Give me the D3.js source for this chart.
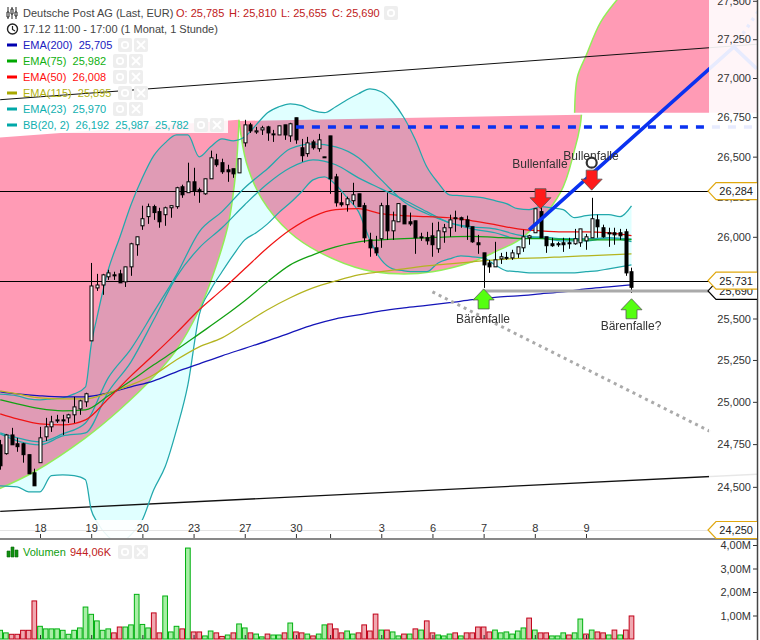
<!DOCTYPE html>
<html><head><meta charset="utf-8">
<script src="https://cdn.jsdelivr.net/npm/d3@7"></script>
<style>html,body{margin:0;padding:0;background:#fff}svg{display:block}text{font-family:"Liberation Sans",Arial,sans-serif}</style>
</head><body><div id="c"></div>
<script>
// ---------- candle data (bar 1..112) ----------
const candleOpen=[24746,24694,24804,24752,24752,24688,24582,24641,24793,24852,24887,24893,24905,24923,24958,25000,25365,25686,25704,25754,25766,25772,25723,25815,25951,26068,26125,26187,26156,26137,26180,26187,26311,26274,26342,26292,26267,26361,26480,26462,26417,26424,26398,26587,26701,26656,26669,26688,26640,26637,26701,26631,26746,26556,26519,26593,26550,26496,26631,26373,26211,26199,26224,26267,26193,25981,25932,25988,26193,26037,26093,26193,26093,26099,25994,25994,26006,25926,26031,26056,26118,26118,26105,26062,25963,25901,25839,25815,25864,25870,25870,25895,25932,25994,26025,26156,26000,25957,25957,25963,25963,25957,25963,25975,25994,26105,26056,26025,26025,26025,26031,25785];
const candleHigh=[24775,24810,24846,24787,24758,24688,24606,24852,24905,24917,24923,24923,24929,25030,25012,25054,25839,25772,25772,25797,25785,25797,25815,25963,26000,26193,26206,26199,26180,26187,26193,26311,26324,26462,26430,26305,26361,26538,26518,26487,26449,26424,26487,26733,26714,26688,26695,26695,26669,26695,26701,26714,26746,26612,26625,26606,26644,26499,26631,26392,26274,26249,26336,26267,26211,26025,26006,26211,26274,26156,26206,26193,26150,26099,26025,26031,26087,26093,26080,26137,26162,26125,26131,26062,26012,25901,25858,25969,25901,25907,25920,25938,26043,26012,26174,26193,26000,25994,25969,25994,25994,26049,26049,26018,26242,26137,26075,26056,26056,26049,26049,25810];
const candleLow=[24600,24688,24746,24705,24641,24576,24506,24641,24769,24822,24875,24804,24875,24875,24923,24970,25365,25668,25644,25735,25735,25717,25692,25760,25883,26043,26080,26105,26056,26068,26118,26174,26242,26274,26255,26211,26261,26361,26436,26392,26342,26367,26398,26563,26650,26644,26637,26600,26593,26637,26606,26593,26581,26468,26499,26544,26531,26493,26267,26187,26187,26156,26199,26187,25963,25877,25883,25932,25981,25981,26093,26080,26068,25895,25975,25951,25877,25901,25963,26000,26031,26056,25981,25963,25895,25686,25778,25815,25833,25858,25858,25870,25907,25951,26025,25994,25901,25938,25938,25907,25926,25951,25938,25920,25994,25994,25994,25938,25951,25981,25760,25655];
const candleClose=[24623,24804,24746,24735,24688,24576,24506,24787,24852,24881,24893,24887,24923,24970,25006,25048,25698,25704,25766,25778,25760,25717,25815,25957,26000,26112,26187,26150,26093,26180,26193,26305,26261,26342,26286,26280,26361,26493,26449,26405,26405,26392,26487,26701,26663,26663,26682,26650,26644,26695,26637,26708,26606,26506,26587,26556,26606,26499,26361,26211,26199,26236,26261,26187,25994,25932,25901,26193,26037,26099,26206,26080,26080,25994,26000,25975,25951,26037,26056,26105,26112,26105,26062,25969,25951,25827,25815,25858,25877,25873,25901,25938,26000,26006,26174,25994,25945,25945,25951,25951,25957,25988,26049,26000,26112,26062,26000,26018,26012,26006,25778,25690];
// ---------- volume (millions), 1 = green, 0 = red ----------
const volume=[.37,.26,.20,.20,.37,.37,1.62,.54,.43,.43,.43,.37,.20,.37,.47,1.36,1.05,.77,.37,.43,.26,.51,.51,.60,1.90,.62,.47,1.11,.26,1.83,.30,.54,.43,3.87,.30,.30,.13,.34,.26,.11,.17,.26,.64,.47,.26,.21,.09,.21,.17,.17,.26,.68,.30,.26,.21,.13,.21,.60,.64,.43,.26,.34,.21,.26,.60,.34,1.06,.38,.38,.30,.13,.21,.21,.43,.38,.77,.26,.17,.13,.21,.26,.13,.26,.26,.51,.51,.30,.38,.26,.30,.21,.34,.47,.89,.38,.26,.26,.13,.13,.26,.17,.26,.85,.21,.38,.30,.26,.17,.38,.17,.38,.98];
const volumeUp=[1,1,0,0,0,0,0,1,1,1,1,1,1,1,1,1,1,1,1,1,0,0,1,1,1,1,1,0,0,1,1,1,0,1,0,0,1,1,0,0,1,0,1,1,0,1,1,0,1,1,0,1,0,0,1,0,1,1,0,0,0,1,1,0,0,0,0,1,0,1,1,0,1,0,1,0,0,1,1,1,0,1,0,0,0,0,0,1,1,1,1,1,1,0,1,0,0,1,1,1,0,1,1,0,1,0,0,1,0,1,0,0];
// ---------- indicator lines ----------
const emaBars=[1,4,8,12,16,20,24,28,32,36,40,44,48,52,56,60,64,68,72,76,80,84,88,92,96,100,104,108,112];
const ema200=[25059,25047,25036,25030,25030,25053,25089,25125,25179,25227,25275,25320,25365,25413,25461,25498,25522,25547,25565,25580,25596,25614,25629,25638,25650,25662,25680,25692,25705];
const ema115=[25065,25047,25024,25018,25018,25053,25101,25161,25251,25329,25383,25468,25553,25626,25686,25729,25766,25785,25803,25821,25833,25846,25858,25867,25870,25877,25883,25889,25895];
const ema75=[25012,24988,24959,24947,24953,25036,25125,25221,25311,25407,25504,25608,25723,25827,25889,25938,25969,25981,25988,25994,26000,26003,25997,25991,25988,25984,25981,25981,25982];
const ema50=[24929,24899,24869,24863,24893,25018,25155,25281,25413,25553,25674,25803,25932,26043,26125,26168,26174,26143,26131,26125,26118,26099,26075,26049,26037,26031,26031,26025,26008];
const ema23=[24816,24787,24763,24810,24875,25143,25317,25540,25766,26031,26156,26305,26424,26550,26581,26562,26493,26354,26218,26143,26087,26049,26025,25988,26000,25988,25988,25994,25970];
const bbMid=[24810,24769,24746,24798,24816,25059,25239,25492,25754,25932,26056,26199,26330,26430,26480,26449,26367,26298,26230,26156,26087,26062,26049,26012,25994,25975,25975,25994,25987];
const bbBars=[0,4,6,8,10,12,14,16,17,18,20,22,24,26,28,30,32,34,36,38,40,42,44,46,48,50,52,54,56,58,60,62,64,66,68,70,72,74,76,78,80,82,84,86,88,90,92,94,96,98,100,102,104,106,108,110,112];
const bbUpper=[25047,25036,25018,25012,25018,25024,25047,25089,25341,25504,25797,25994,26199,26367,26506,26587,26637,26637,26499,26562,26612,26600,26625,26701,26778,26816,26835,26823,26791,26778,26816,26861,26899,26931,26912,26848,26746,26606,26436,26336,26261,26255,26249,26242,26224,26206,26174,26168,26187,26180,26168,26118,26131,26137,26137,26125,26192];
const bbLower=[24506,24500,24471,24471,24565,24570,24565,24541,24367,24298,24212,24177,24223,24309,24483,24617,24834,25101,25522,25674,25785,25889,25981,26025,26080,26150,26211,26280,26354,26373,26324,26242,26156,25981,25858,25803,25791,25785,25785,25839,25864,25883,25877,25870,25827,25791,25785,25778,25778,25778,25778,25778,25785,25791,25803,25815,25827];
// ---------- drawn tools ----------
const wave1Bars=[0,7,16,22,28,32,36,38,41,42,42.6,43];
const wave1Vals=[24477,24588,24787,24953,25149,25311,25553,25723,26062,26274,26480,26733];
const wave1Close=[[0,26619]];
const wave2Bars=[43,44.3,47,52,57,65,71,77,84,88,93,99.5,102,103,103.2];
const wave2Vals=[26726,26462,26236,26025,25907,25797,25772,25785,25846,25907,26000,26274,26544,26701,26765];
const wave3Bars=[102,102.5,104,106.6,110,114];
const wave3Vals=[26778,27008,27143,27363,27531,27702];
const wave3Close=[[135,27702],[135,26778]];
const levelLines=[26284,25731];
const grayLevel=25668, grayFromBar=86;
const dashedLevel=26688, dashedFromBar=53;
const blueTrendBars=[94,130,134], blueTrendVals=[26043,27200,27060];
const blueDottedBars=[130,135], blueDottedVals=[27200,27470];
const dottedBars=[77,126], dottedVals=[25662,24822];
const blackTrendA=[[1,26861],[135,27220]];
const blackTrendB=[[1,24358],[135,24575]];
const redArrows=[[96,26174,"Bullenfalle"],[105,26290,"Bullenfalle"]];
const greenArrows=[[86,25680,"Bärenfalle"],[112,25620,"Bärenfalle?"]];
const circleMark=[105,26462];
const priceTicks=[24250,24500,24750,25000,25250,25500,25750,26000,26250,26500,26750,27000,27250,27500];
const volTicks=[1,2,3,4];
const dayTickBars=[8,17,26,35,44,53,59,68,77,86,95,104];
const dayTickLabels=["18","19","20","23","27","30","","3","6","7","8","9"];
const priceTags=[[25668,"25,690","#000"],[26284,"26,284","#e0a810"],[25731,"25,731","#e0a810"],[24250,"24,250","#e0a810"]];

const W=760,H=640,FS=11;
const x=d3.scaleLinear().domain([8,104]).range([40,586]);
const y=d3.scaleLog().domain([24250,27000]).range([530,78]);
const yv=d3.scaleLinear().domain([0,4]).range([639,545]);
const fmt=v=>d3.format(",")(v);
const svg=d3.select("#c").append("svg").attr("width",W).attr("height",H);
const defs=svg.append("defs");
defs.append("clipPath").attr("id","pane").append("rect").attr("x",0).attr("y",0).attr("width",757).attr("height",539);
const pane=svg.append("g").attr("clip-path","url(#pane)").style("isolation","isolate");

const zip=(b,v)=>b.map((d,i)=>[d,v[i]]);
const lineM=d3.line().x(d=>x(d[0])).y(d=>y(d[1])).curve(d3.curveMonotoneX);
const lineS=d3.line().x(d=>x(d[0])).y(d=>y(d[1]));
const lineC=d3.line().x(d=>x(d[0])).y(d=>y(d[1])).curve(d3.curveCatmullRom.alpha(.5));

// Bollinger fill
const bandData=bbBars.map((b,i)=>({b,u:bbUpper[i],l:bbLower[i]}));
pane.append("path").attr("fill","#e0ffff")
 .attr("d",d3.area().x(d=>x(d.b)).y0(d=>y(d.l)).y1(d=>y(d.u)).curve(d3.curveMonotoneX)(bandData));

// Wave fills
const PINK="#ff9bb5",LIME="#92ee58";
function wave(bars,vals,close){
  const arc=zip(bars,vals);
  const arcD=lineC(arc);
  const closeD=close.map(p=>"L"+x(p[0])+","+y(p[1])).join("");
  pane.append("path").attr("d",arcD+closeD+"Z").attr("fill",PINK).style("mix-blend-mode","multiply");
  pane.append("path").attr("d",arcD).attr("fill","none").attr("stroke",LIME).attr("stroke-width",1.5);
}
wave(wave1Bars,wave1Vals,wave1Close);
wave(wave2Bars,wave2Vals,[]);
wave(wave3Bars,wave3Vals,wave3Close);

// level lines & trend lines
pane.selectAll(".lvl").data(levelLines).join("line").attr("x1",0).attr("x2",757)
 .attr("y1",d=>Math.round(y(d))+.5).attr("y2",d=>Math.round(y(d))+.5).attr("stroke","#000").attr("stroke-width",1);
pane.append("path").attr("d",lineS(blackTrendA)).attr("stroke","#111").attr("stroke-width",1).attr("fill","none");
pane.append("path").attr("d",lineS(blackTrendB)).attr("stroke","#111").attr("stroke-width",1.3).attr("fill","none");

// BB & EMA lines
const TEAL="#22a8ac";
[[zip(bbBars,bbUpper),TEAL],[zip(bbBars,bbLower),TEAL],[zip(emaBars,bbMid),TEAL],[zip(emaBars,ema23),TEAL],
 [zip(emaBars,ema200),"#1414b8"],[zip(emaBars,ema115),"#b4b420"],[zip(emaBars,ema75),"#12a012"],[zip(emaBars,ema50),"#f01414"]]
 .forEach(([d,c])=>pane.append("path").attr("d",lineM(d)).attr("fill","none").attr("stroke",c).attr("stroke-width",1.25));

// candles
const bars=candleOpen.map((o,i)=>({i:i+1,o,h:candleHigh[i],l:candleLow[i],c:candleClose[i]}));
const cg=pane.append("g").selectAll("g").data(bars).join("g");
cg.append("line").attr("x1",d=>Math.round(x(d.i))+.5).attr("x2",d=>Math.round(x(d.i))+.5)
 .attr("y1",d=>y(d.h)).attr("y2",d=>y(d.l)).attr("stroke","#000").attr("stroke-width",1);
cg.append("rect").attr("x",d=>Math.round(x(d.i))-1).attr("width",3)
 .attr("y",d=>y(Math.max(d.o,d.c))).attr("height",d=>Math.max(1,Math.abs(y(d.o)-y(d.c))))
 .attr("fill",d=>d.c>=d.o?"#fff":"#000").attr("stroke","#000").attr("stroke-width",1);

// gray level, dotted, blue lines
pane.append("line").attr("x1",x(grayFromBar)).attr("x2",757).attr("y1",y(grayLevel)).attr("y2",y(grayLevel)).attr("stroke","#aaa").attr("stroke-width",3);
pane.append("path").attr("d",lineS(zip(dottedBars,dottedVals))).attr("stroke","#aaa").attr("stroke-width",3).attr("stroke-dasharray","3,4").attr("fill","none");
pane.append("line").attr("x1",x(dashedFromBar)).attr("x2",757).attr("y1",y(dashedLevel)).attr("y2",y(dashedLevel)).attr("stroke","#0a32f0").attr("stroke-width",3.5).attr("stroke-dasharray","8,8");
pane.append("path").attr("d",lineS(zip(blueTrendBars,blueTrendVals))).attr("stroke","#0a32f0").attr("stroke-width",3.5).attr("fill","none");
pane.append("path").attr("d",lineS(zip(blueDottedBars,blueDottedVals))).attr("stroke","#0a32f0").attr("stroke-width",3.5).attr("stroke-dasharray","3,5").attr("fill","none");

// arrows
function arrow(cx,tip,dir,fill){ // dir=+1 pointing down, -1 pointing up
  const p=d3.path();
  const sh=11*dir, tot=20*dir;
  p.moveTo(cx,tip);p.lineTo(cx-10.5,tip-sh);p.lineTo(cx-5.5,tip-sh);p.lineTo(cx-5.5,tip-tot);
  p.lineTo(cx+5.5,tip-tot);p.lineTo(cx+5.5,tip-sh);p.lineTo(cx+10.5,tip-sh);p.closePath();
  pane.append("path").attr("d",p.toString()).attr("fill",fill).attr("stroke","#555").attr("stroke-width",.8);
}
const noteStyle=s=>s.attr("font-size",12).attr("fill","#333").attr("text-anchor","middle");
redArrows.forEach(([b,v,t],i)=>{
  arrow(x(b),y(v),1,"#ff1a1a");
  pane.append("text").attr("x",i?591:540).attr("y",i?160:168).text(t).call(noteStyle);
});
greenArrows.forEach(([b,v,t],i)=>{
  arrow(x(b),y(v),-1,"#55ff10");
  pane.append("text").attr("x",i?631:483).attr("y",i?330:323).text(t).call(noteStyle);
});
pane.append("circle").attr("cx",x(circleMark[0])).attr("cy",y(circleMark[1])).attr("r",5).attr("fill","#fff").attr("stroke","#333").attr("stroke-width",2.2);

// strips over chart
svg.append("rect").attr("x",709).attr("y",0).attr("width",48).attr("height",539).attr("fill","#fff").attr("opacity",.9);
svg.append("rect").attr("x",0).attr("y",520).attr("width",709).attr("height",19).attr("fill","#fff").attr("opacity",.9);
svg.append("line").attr("x1",0).attr("x2",708).attr("y1",530.5).attr("y2",530.5).attr("stroke","#e4e4e4").attr("stroke-width",1);

// volume
const volData=volume.map((v,i)=>({i:i+1,v,up:volumeUp[i]}));
const bw=x(2)-x(1);
svg.append("g").selectAll("rect").data(volData).join("rect")
 .attr("x",d=>x(d.i)-bw/2+.5).attr("width",bw-1)
 .attr("y",d=>yv(d.v)).attr("height",d=>yv(0)-yv(d.v))
 .attr("fill",d=>d.up?"#a8eea6":"#f0a8b0").attr("stroke",d=>d.up?"#00b010":"#c00018").attr("stroke-width",1);

// axes
const axisStyle=g=>{g.select(".domain").remove();g.selectAll("text").attr("font-size",FS).attr("fill","#333").attr("font-family",'"Liberation Sans",Arial,sans-serif');g.selectAll("line").attr("stroke","#333");};
svg.append("g").attr("transform","translate(0,539)")
 .call(d3.axisTop(x).tickValues(dayTickBars).tickSize(5).tickPadding(2).tickFormat((d,i)=>dayTickLabels[i])).call(axisStyle);
svg.append("g").attr("transform","translate(0,639)")
 .call(d3.axisTop(x).tickValues(dayTickBars).tickSize(4).tickFormat("")).call(axisStyle);
svg.append("g").attr("transform","translate(758,0)")
 .call(d3.axisLeft(y).tickValues(priceTicks).tickSize(5).tickPadding(2).tickFormat(fmt)).call(axisStyle);
svg.append("g").attr("transform","translate(758,0)")
 .call(d3.axisLeft(yv).tickValues(volTicks).tickSize(5).tickPadding(2).tickFormat(d=>d3.format(".2f")(d).replace(".",",")+"M")).call(axisStyle);
svg.append("line").attr("x1",0).attr("x2",757).attr("y1",539).attr("y2",539).attr("stroke","#888").attr("stroke-width",2);
svg.append("line").attr("x1",757.5).attr("x2",757.5).attr("y1",0).attr("y2",640).attr("stroke","#444").attr("stroke-width",1.5);

// price tags
priceTags.forEach(([v,t,c])=>{
  const yy=y(v),g=svg.append("g");
  const p=d3.path();p.moveTo(757,yy-8.5);p.lineTo(716,yy-8.5);p.lineTo(708,yy);p.lineTo(716,yy+8.5);p.lineTo(757,yy+8.5);
  g.append("path").attr("d",p.toString()).attr("fill","#fff").attr("stroke",c).attr("stroke-width",1.2);
  g.append("text").attr("x",753).attr("y",yy+4).attr("text-anchor","end").attr("font-size",FS).attr("fill","#222").text(t);
});

// legend
const lg=svg.append("g");
function buttons(xx,yy,count=2){[0,16].slice(0,count).forEach((dx,k)=>{
  lg.append("rect").attr("x",xx+dx).attr("y",yy-7).attr("width",14).attr("height",14).attr("rx",2).attr("fill","#eee");
  if(k==0)lg.append("circle").attr("cx",xx+dx+7).attr("cy",yy).attr("r",3.2).attr("fill","none").attr("stroke","#fff").attr("stroke-width",1.8);
  else{lg.append("path").attr("d",`M${xx+dx+3},${yy-4}L${xx+dx+11},${yy+4}M${xx+dx+11},${yy-4}L${xx+dx+3},${yy+4}`).attr("stroke","#fff").attr("stroke-width",1.8);}
});}
const legendRows=[["EMA(200)","25,705","#2020c0",45,118,"#0000b0"],["EMA(75)","25,982","#10b010",61,113,"#00a800"],["EMA(50)","26,008","#ff1010",77,113,"#ff0000"],["EMA(115)","25,895","#b0b010",93,118,"#a8a800"],["EMA(23)","25,970","#10b0b0",109,113,"#00a8a8"],["BB(20, 2)","26,192  25,987  25,782","#10b0b0",125,194,"#00a8a8"]];
lg.append("rect").attr("x",0).attr("y",101).attr("width",147).attr("height",17).attr("fill","#fff").attr("opacity",.9);
lg.append("rect").attr("x",0).attr("y",117).attr("width",228).attr("height",16).attr("fill","#fff").attr("opacity",.88);
lg.append("text").attr("x",23).attr("y",17).attr("font-size",FS).attr("fill","#444").text("Deutsche Post AG (Last, EUR)");
[["O: 25,785",176],["H: 25,810",229],["L: 25,655",281],["C: 25,690",332]].forEach(([s,xx])=>lg.append("text").attr("x",xx).attr("y",17).attr("font-size",FS).attr("fill","#c02020").text(s));
buttons(384,13,1);
lg.append("text").attr("x",23).attr("y",33).attr("font-size",FS).attr("fill","#444").text("17.12 11:00 - 17:00 (1 Monat, 1 Stunde)");
// OHLC icon
lg.append("path").attr("d","M8,7V19M12,7V19M16,7V19").attr("stroke","#222").attr("stroke-width",1);
lg.append("path").attr("d","M7,12h2v5h-2zM11,9h2v5h-2zM15,12h2v4h-2z").attr("fill","#fff").attr("stroke","#222").attr("stroke-width",1);
lg.append("circle").attr("cx",12.5).attr("cy",29).attr("r",5).attr("fill","none").attr("stroke","#222").attr("stroke-width",1.4);
lg.append("path").attr("d","M12.5,26V29.5L15,31").attr("fill","none").attr("stroke","#222").attr("stroke-width",1.2);
legendRows.forEach(([n,v,c,yy,bx,sw])=>{
  lg.append("rect").attr("x",7).attr("y",yy-1.5).attr("width",10).attr("height",3).attr("fill",sw);
  lg.append("text").attr("x",23).attr("y",yy+4).attr("font-size",FS).attr("fill",c).style("white-space","pre").text(n+"  "+v);
  buttons(bx,yy);
});
// volume legend
lg.append("path").attr("d","M7,557V551H10V557ZM11,557V547H14V557ZM15,557V550H18V557Z").attr("fill","#109010").attr("stroke","#0a6a0a").attr("stroke-width",.6);
lg.append("text").attr("x",23).attr("y",556).attr("font-size",FS).attr("fill","#10a010").text("Volumen");
lg.append("text").attr("x",70).attr("y",556).attr("font-size",FS).attr("fill","#c02020").text("944,06K");
buttons(118,552);
</script></body></html>
